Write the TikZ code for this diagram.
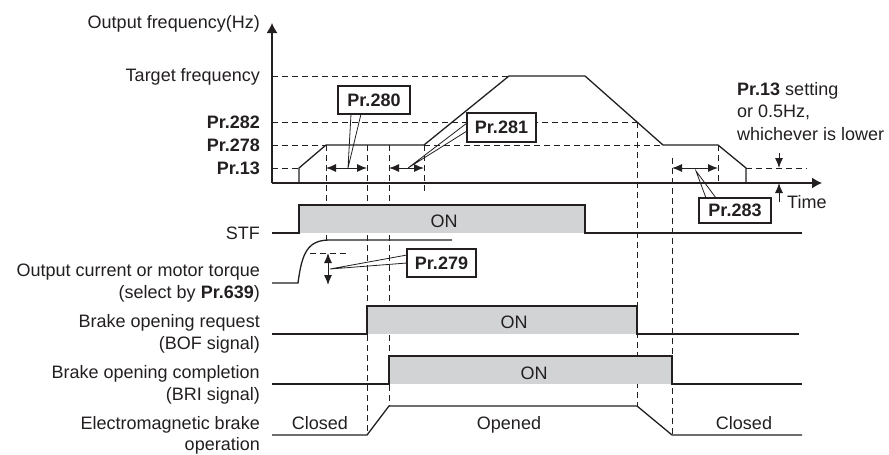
\documentclass[tikz,border=0pt]{standalone}
\usepackage{fontspec}
\setmainfont{Liberation Sans}
\usetikzlibrary{arrows.meta,shadows}
\definecolor{ink}{HTML}{231F20}
\definecolor{ongray}{HTML}{D1D3D4}
\begin{document}
\begin{tikzpicture}[x=1pt,y=-1pt,
  font=\fontsize{18}{21}\selectfont,
  every node/.style={text=ink, inner sep=0pt},
  lbl/.style={anchor=base east},
  lblb/.style={anchor=base east, font=\fontsize{18}{21}\selectfont\bfseries},
  wave/.style={draw=ink, line width=1.3pt, line join=miter},
  axis/.style={draw=ink, line width=1.3pt, -{Latex[length=10pt,width=11pt]}},
  guide/.style={draw=ink, line width=0.9pt, dash pattern=on 6pt off 4pt},
  prbox/.style={draw=ink, line width=1.2pt, fill=white, font=\fontsize{18}{21}\selectfont\bfseries,
    drop shadow={shadow xshift=1.2pt, shadow yshift=-1.2pt, fill=ink!60, opacity=1}},
  dim/.style={draw=ink, line width=1pt, {Latex[length=10pt,width=8pt]}-{Latex[length=10pt,width=8pt]}},
  single/.style={draw=ink, line width=1pt, -{Latex[length=10pt,width=8pt]}},
  callout/.style={draw=ink, line width=0.8pt}
]
\useasboundingbox (0,0) rectangle (889,455);

% ---------- guides (dashed) ----------
\draw[guide] (272,76) -- (509,76);
\draw[guide] (272,122) -- (637,122);
\draw[guide] (272,145) -- (326,145);
\draw[guide] (424,145) -- (663,145);
\draw[guide] (272,168) -- (299,168);
\draw[guide] (746,168) -- (807,168);
\draw[guide] (326,145) -- (326,240);
\draw[guide] (367,145) -- (367,435);
\draw[guide] (389,145) -- (389,406);
\draw[guide] (424,145) -- (424,192);
\draw[guide] (637,122) -- (637,406);
\draw[guide] (672,158) -- (672,435);
\draw[guide] (718,145) -- (718,183);
\draw[guide] (310,253) -- (347,253);

% ---------- axes ----------
\coordinate (O) at (272,183);
\coordinate (ytop) at (272,23);
\coordinate (xend) at (822,183);
\draw[axis] (O) -- (ytop);
\draw[axis] (O) -- (xend);

% ---------- frequency curve ----------
\draw[wave] (299,183) -- (299,168) -- (326,145) -- (424,145) -- (509,76) -- (585,76)
  -- (663,145) -- (718,145) -- (746,168) -- (746,183);

% ---------- STF ----------
\fill[ongray] (299,205) rectangle (585,233);
\draw[wave] (272,233) -- (299,233) -- (299,205) -- (585,205) -- (585,233) -- (802,233);
\node[anchor=base] (onstf) at (444,227.5) {ON};

% ---------- output current ----------
\draw[wave] (272,283) -- (298,283) .. controls (302,252) and (308,240) .. (330,240) -- (452,240);

% ---------- BOF ----------
\fill[ongray] (367,306) rectangle (637,334);
\draw[wave] (272,334) -- (367,334) -- (367,306) -- (637,306) -- (637,334) -- (799,334);
\node[anchor=base] (onbof) at (514,328.5) {ON};

% ---------- BRI ----------
\fill[ongray] (389,356) rectangle (672,384);
\draw[wave] (272,384) -- (389,384) -- (389,356) -- (672,356) -- (672,384) -- (802,384);
\node[anchor=base] (onbri) at (534,379) {ON};

% ---------- brake ----------
\draw[wave] (272,435) -- (367,435) -- (389,406) -- (637,406) -- (672,435) -- (802,435);
\node[anchor=base] (closedl) at (320,429) {Closed};
\node[anchor=base] (opened) at (509,429) {Opened};
\node[anchor=base] (closedr) at (744,429) {Closed};

% ---------- left labels ----------
\node[lbl] (ylab) at (260,28) {Output frequency(Hz)};
\node[lbl] (tf) at (260,81.5) {Target frequency};
\node[lblb] (l282) at (260,128.5) {Pr.282};
\node[lblb] (l278) at (260,151.5) {Pr.278};
\node[lblb] (l13) at (260,174.5) {Pr.13};
\node[lbl] (lstf) at (260,239) {STF};
\node[lbl] (lcur1) at (260,276.5) {Output current or motor torque};
\node[lbl] (lcur2) at (260,298) {(select by \textbf{Pr.639})};
\node[lbl] (lbof1) at (260,327.5) {Brake opening request};
\node[lbl] (lbof2) at (260,349.5) {(BOF signal)};
\node[lbl] (lbri1) at (260,378.5) {Brake opening completion};
\node[lbl] (lbri2) at (260,400) {(BRI signal)};
\node[lbl] (lbr1) at (260,429) {Electromagnetic brake};
\node[lbl] (lbr2) at (260,450) {operation};

% ---------- right labels ----------
\node[anchor=base west] (time) at (787,208) {Time};
\node[anchor=base west] (n1) at (737,95) {\textbf{Pr.13} setting};
\node[anchor=base west] (n2) at (737,117.5) {or 0.5Hz,};
\node[anchor=base west] (n3) at (737,140) {whichever is lower};

% ---------- dimension arrows ----------
\coordinate (a280l) at (326,168); \coordinate (a280r) at (367,168);
\coordinate (a281l) at (389,168); \coordinate (a281r) at (424,168);
\coordinate (a283l) at (672,168); \coordinate (a283r) at (718,168);
\coordinate (a279t) at (328,253); \coordinate (a279b) at (328,285);
\draw[dim] (a280l) -- (a280r);
\draw[dim] (a281l) -- (a281r);
\draw[dim] (a283l) -- (a283r);
\draw[dim] (a279t) -- (a279b);
\coordinate (p13a) at (779,153); \coordinate (p13b) at (779,168);
\coordinate (p13c) at (779,202); \coordinate (p13d) at (779,183);
\draw[single] (p13a) -- (p13b);
\draw[single] (p13c) -- (p13d);

% ---------- callouts ----------
\coordinate (t280) at (348,168);
\coordinate (t281) at (408,168);
\coordinate (t283) at (696,171);
\coordinate (t279) at (330,269);
\draw[callout] (351,114) -- (t280) -- (361,114);
\draw[callout] (467,123) -- (t281) -- (467,131);
\draw[callout] (706,198) -- (t283) -- (716,198);
\draw[callout] (407,255) -- (t279) -- (407,263);

\node[prbox, minimum width=72pt, minimum height=28pt] (b280) at (374,100) {Pr.280};
\node[prbox, minimum width=69pt, minimum height=29pt] (b281) at (501.5,127.5) {Pr.281};
\node[prbox, minimum width=69pt, minimum height=28pt] (b279) at (441.5,263) {Pr.279};
\node[prbox, minimum width=72pt, minimum height=25pt] (b283) at (735,210.5) {Pr.283};
\end{tikzpicture}
\end{document}
